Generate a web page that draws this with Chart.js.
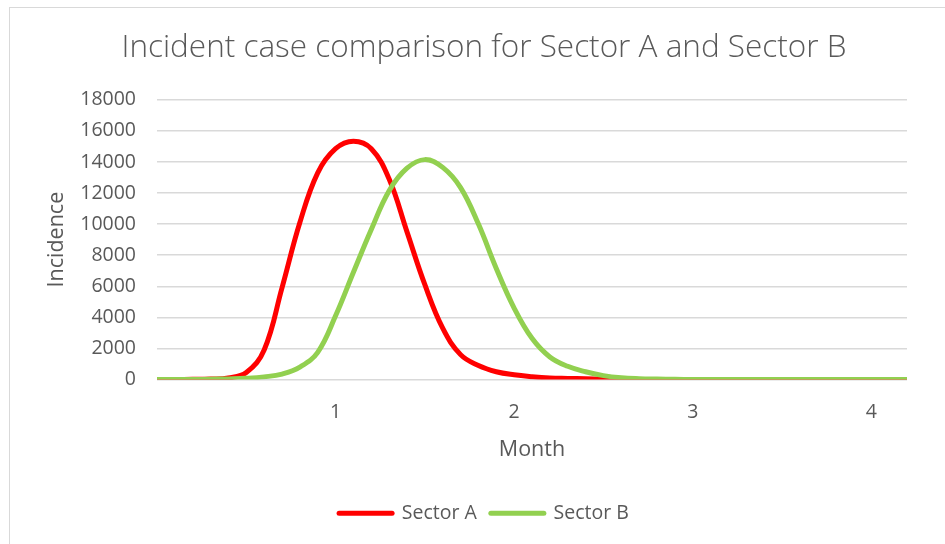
<!DOCTYPE html>
<html>
<head>
<meta charset="utf-8">
<title>Incident case comparison</title>
<script src="https://cdn.jsdelivr.net/npm/chart.js@4.4.1/dist/chart.umd.min.js"></script>
<style>
  html, body { margin: 0; padding: 0; background: #ffffff; }
  #frame { position: relative; width: 945px; height: 544px; overflow: hidden; background: #ffffff; }
  #border { position: absolute; left: 9px; top: 7px; width: 980px; height: 580px; border: 1px solid #d9d9d9; box-sizing: border-box; }
  #wrap { position: absolute; left: 0; top: 0; width: 945px; height: 544px; }
</style>
</head>
<body>
<div id="frame">
  <div id="border"></div>
  <div id="wrap"><canvas id="chart" width="945" height="544"></canvas></div>
</div>
<script>
// Time in months (sampled every 0.1 month)
const months = [
  0.0, 0.1, 0.2, 0.3, 0.4, 0.5, 0.6, 0.7, 0.8, 0.9,
  1.0, 1.1, 1.2, 1.3, 1.4, 1.5, 1.6, 1.7, 1.8, 1.9,
  2.0, 2.1, 2.2, 2.3, 2.4, 2.5, 2.6, 2.7, 2.8, 2.9,
  3.0, 3.1, 3.2, 3.3, 3.4, 3.5, 3.6, 3.7, 3.8, 3.9,
  4.0, 4.1, 4.2
];

// Incident cases, Sector A
const sectorA = [
  0, 0, 10, 30, 100, 450, 1900, 5900, 10100, 13300,
  14850, 15330, 14850, 12900, 9500, 6100, 3300, 1600, 900, 500,
  300, 180, 100, 70, 45, 25, 15, 5, 0, 0,
  0, 0, 0, 0, 0, 0, 0, 0, 0, 0,
  0, 0, 0
];

// Incident cases, Sector B
const sectorB = [
  0, 0, 0, 15, 40, 80, 170, 350, 800, 1750,
  4100, 6900, 9650, 12150, 13600, 14150, 13650, 12350, 10000, 7150,
  4600, 2650, 1450, 850, 500, 250, 110, 50, 25, 10,
  0, 0, 0, 0, 0, 0, 0, 0, 0, 0,
  0, 0, 0
];

const seriesNames = ['Sector A', 'Sector B'];
const seriesColors = ['#ff0000', '#92d050'];
const monthTicks = [1, 2, 3, 4];
const yTicks = { min: 0, max: 18000, step: 2000 };

const chartTitle = 'Incident case comparison for Sector A and Sector B';
const xTitle = 'Month';
const yTitle = 'Incidence';

const FONT = "'Open Sans', 'Noto Sans', sans-serif";
const TEXT = '#595959';
const GRID = '#d9d9d9';

function toPoints(values) {
  return months.map((m, i) => ({ x: m, y: values[i] }));
}

function lineDataset(label, values, color, order) {
  return {
    label: label,
    data: toPoints(values),
    borderColor: color,
    backgroundColor: color,
    borderWidth: 5,
    borderCapStyle: 'round',
    borderJoinStyle: 'round',
    pointRadius: 0,
    pointHoverRadius: 0,
    pointBorderWidth: 5,
    tension: 0.4,
    fill: false,
    order: order
  };
}

new Chart(document.getElementById('chart'), {
  type: 'line',
  data: {
    datasets: [
      lineDataset(seriesNames[0], sectorA, seriesColors[0], 1),
      lineDataset(seriesNames[1], sectorB, seriesColors[1], 0)
    ]
  },
  options: {
    responsive: false,
    devicePixelRatio: 1,
    animation: false,
    events: [],
    layout: { padding: { left: 61, right: 38, top: 0, bottom: 11 } },
    plugins: {
      title: {
        display: true,
        text: chartTitle,
        color: TEXT,
        font: { family: FONT, size: 31.5, weight: 300, lineHeight: 1.2 },
        padding: { top: 29, bottom: 33 }
      },
      legend: {
        display: true,
        position: 'bottom',
        labels: {
          usePointStyle: true,
          pointStyle: 'line',
          pointStyleWidth: 53,
          color: TEXT,
          padding: 14,
          font: { family: FONT, size: 19.5 },
          generateLabels: (chart) => chart.data.datasets.map((ds, i) => ({
            text: ds.label,
            strokeStyle: ds.borderColor,
            fillStyle: ds.borderColor,
            fontColor: TEXT,
            lineWidth: 5,
            lineCap: 'round',
            pointStyle: 'line',
            hidden: false,
            datasetIndex: i
          }))
        }
      },
      tooltip: { enabled: false }
    },
    scales: {
      x: {
        type: 'linear',
        min: 0,
        max: 4.2,
        afterBuildTicks: (scale) => { scale.ticks = monthTicks.map(v => ({ value: v })); },
        afterFit: (scale) => { scale.height = 110; },
        grid: { display: false, drawTicks: false },
        border: { display: false },
        ticks: {
          autoSkip: false,
          maxRotation: 0,
          padding: 21,
          color: TEXT,
          font: { family: FONT, size: 19.5 },
          callback: (v) => String(v)
        },
        title: {
          display: true,
          text: xTitle,
          color: TEXT,
          font: { family: FONT, size: 21.5, lineHeight: 1.2 },
          padding: { top: 0, bottom: 27 }
        }
      },
      y: {
        min: yTicks.min,
        max: yTicks.max,
        afterFit: (scale) => { scale.width = 96; },
        grid: { color: GRID, lineWidth: 1.5, drawTicks: false },
        border: { display: false },
        ticks: {
          stepSize: yTicks.step,
          padding: 21,
          color: TEXT,
          font: { family: FONT, size: 19.5 },
          callback: (v) => String(v)
        },
        title: {
          display: true,
          text: yTitle,
          color: TEXT,
          font: { family: FONT, size: 21.5, lineHeight: 1.2 },
          padding: { top: -17, bottom: 0 }
        }
      }
    }
  }
});
</script>
</body>
</html>
